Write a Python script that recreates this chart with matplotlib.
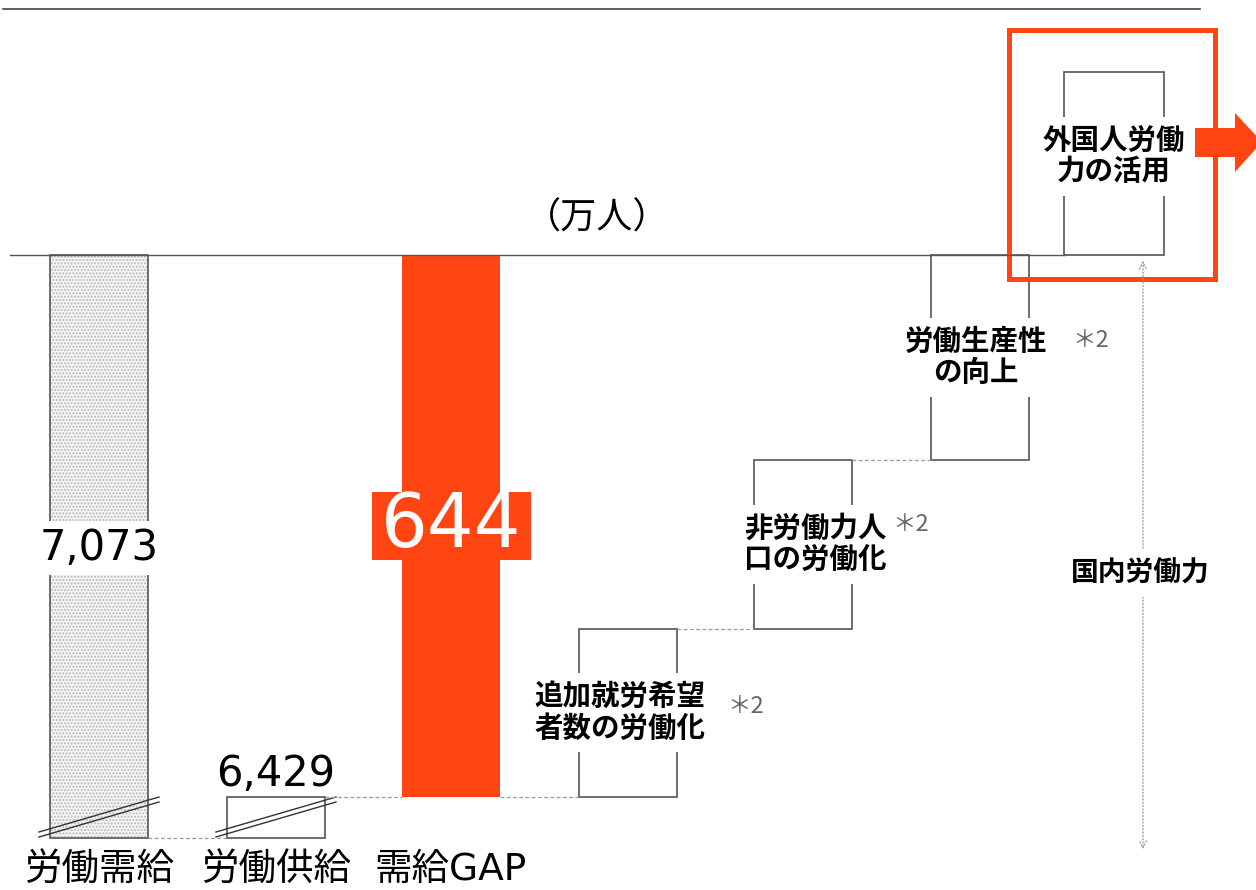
import matplotlib
matplotlib.use('Agg')
import matplotlib.pyplot as plt
from matplotlib.patches import Rectangle, Polygon

plt.rcParams['font.family'] = ['Noto Sans CJK JP', 'DejaVu Sans']

# データ（万人）
categories = ['労働需給', '労働供給', '需給GAP']
demand = 7073
supply = 6429
gap = demand - supply
step_labels = ['追加就労希望\n者数の労働化', '非労働力人\n口の労働化', '労働生産性\nの向上']
step_values = [200, 200, 244]
foreign_label = '外国人労働\n力の活用'
foreign_value = 217
base_value = 6380          # 省略された軸の下端

# レイアウト（ピクセル換算）
K = 0.8416                 # 1万人あたりのピクセル数
TOP_PX = 255               # 労働需給の上端の位置

def yv(px):
    return demand + (TOP_PX - px) / K

ORANGE = '#ff4612'
EDGE = '#555555'
W = 98
x_main = [99, 276, 451]
x_steps = [628, 803, 980]
x_foreign = 1114
label_dx = [-8, 12, -4]

fig = plt.figure(figsize=(12.56, 8.9), dpi=100)
ax = fig.add_axes([0, 0, 1, 1])
ax.set_xlim(0, 1256)
ax.set_ylim(yv(890), yv(0))
ax.axis('off')

# 上の罫線と基準線
ax.plot([3, 1200], [yv(9), yv(9)], color='#444444', lw=1.2)
ax.plot([10, x_foreign - W / 2], [demand, demand], color=EDGE, lw=1.0)
ax.text(597, yv(219), '（万人）', ha='center', va='center', fontsize=26)

# 労働需給
ax.bar(x_main[0], demand - base_value, W, bottom=base_value, color='#f5f5f5',
       edgecolor='#b8b8b8', hatch='.....', lw=0)
ax.bar(x_main[0], demand - base_value, W, bottom=base_value, fill=False,
       edgecolor=EDGE, lw=1.2)
# 労働供給
ax.bar(x_main[1], supply - base_value, W, bottom=base_value, color='white',
       edgecolor=EDGE, lw=1.2)
# 需給GAP
ax.bar(x_main[2], gap, W, bottom=supply, color=ORANGE, lw=0)

# 省略記号
for xc in x_main[:2]:
    for off in [0, 5]:
        ax.plot([xc - 60, xc + 60], [yv(832 + off), yv(797 + off)], color='#333333', lw=1.0)

# 点線のつなぎ
conn = dict(color='#999999', lw=0.9, ls=(0, (3, 2)))
ax.plot([x_main[0] + W / 2, x_main[1] - W / 2], [base_value, base_value], **conn)
ax.plot([x_main[1] + W / 2, x_main[2] - W / 2], [supply, supply], **conn)
ax.plot([x_main[2] + W / 2, x_steps[0] - W / 2], [supply, supply], **conn)

label_box = dict(boxstyle='square,pad=0.35', fc='white', ec='none')

# 施策のステップ
level = supply
for i, (lab, v) in enumerate(zip(step_labels, step_values)):
    ax.bar(x_steps[i], v, W, bottom=level, color='white', edgecolor=EDGE, lw=1.2)
    ax.text(x_steps[i] + label_dx[i], level + v / 2, lab, ha='center', va='center',
            fontsize=20.5, fontweight='bold', linespacing=1.15, bbox=label_box)
    level += v
    if i < len(step_values) - 1:
        ax.plot([x_steps[i] + W / 2, x_steps[i + 1] - W / 2], [level, level], **conn)

# ＊2 注記
for xs, ys in [(746, 706), (911, 524), (1091, 340)]:
    ax.text(xs, yv(ys), '＊2', ha='center', va='center', fontsize=17, color='#666666')

# 外国人労働力
ax.bar(x_foreign, foreign_value, W + 2, bottom=demand, color='white', edgecolor=EDGE, lw=1.2)
ax.text(x_foreign, demand + foreign_value * 0.54, foreign_label, ha='center', va='center',
        fontsize=20.5, fontweight='bold', linespacing=1.15, bbox=label_box)

# オレンジの枠と矢印
ax.add_patch(Rectangle((1009, yv(279)), 206, yv(30) - yv(279), fill=False,
                       ec=ORANGE, lw=3.6))
arrow_px = [(1193, 128), (1235, 128), (1235, 113), (1262, 142),
            (1235, 172), (1235, 157), (1193, 157)]
ax.add_patch(Polygon([(x, yv(y)) for x, y in arrow_px], closed=True,
                     fc=ORANGE, ec='none'))

# 国内労働力の矢印
ax.annotate('', xy=(1143, yv(852)), xytext=(1143, yv(258)),
            arrowprops=dict(arrowstyle='<->,head_length=0.5,head_width=0.25',
                            color='#999999', lw=0.9, ls=':'))
ax.text(1140, yv(573), '国内労働力', ha='center', va='center', fontsize=20,
        fontweight='bold', bbox=label_box)

# 数値ラベル
ax.text(x_main[0], yv(548), f'{demand:,}', ha='center', va='center', fontsize=30,
        family='DejaVu Sans', bbox=dict(boxstyle='square,pad=0.15', fc='white', ec='none'))
ax.text(x_main[1], yv(774), f'{supply:,}', ha='center', va='center', fontsize=30,
        family='DejaVu Sans')
ax.add_patch(Rectangle((372, yv(560)), 159, yv(492) - yv(560), fc=ORANGE, ec='none'))
ax.text(x_main[2], yv(526), f'{gap:,}', ha='center', va='center', fontsize=53,
        color='white', family='DejaVu Sans')

# カテゴリ名
for xc, lab in zip(x_main, categories):
    ax.text(xc, yv(870), lab, ha='center', va='center', fontsize=27,
            family=['DejaVu Sans', 'Noto Sans CJK JP'])

fig.savefig('out.png', dpi=100)
